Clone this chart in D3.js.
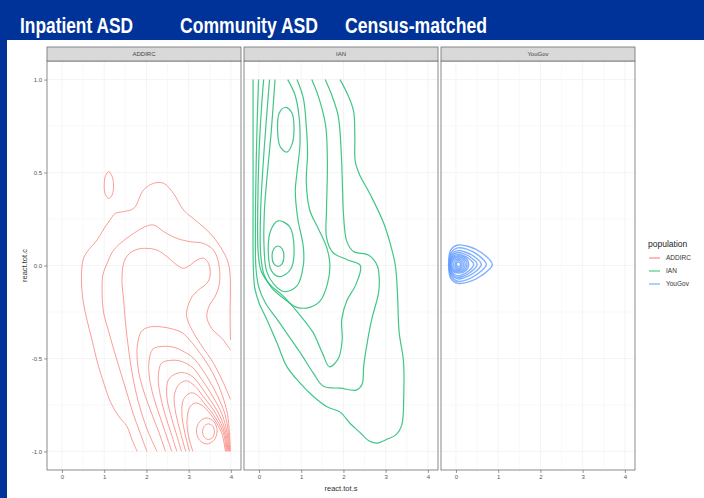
<!DOCTYPE html>
<html>
<head>
<meta charset="utf-8">
<script src="https://cdn.jsdelivr.net/npm/d3@7"></script>
<style>
  html, body { margin: 0; padding: 0; background: #003399; }
  svg { display: block; }
</style>
</head>
<body>
<svg id="chart" width="704" height="498"></svg>
<script>
// Facets, headings and legend
const facets = ["ADDIRC", "IAN", "YouGov"];
const headings = ["Inpatient ASD", "Community ASD", "Census-matched"];
const xTicks = [0, 1, 2, 3, 4];
const yTicks = [-1, -0.5, 0, 0.5, 1];
const xTitle = "react.tot.s";
const yTitle = "react.tot.c";
const legendTitle = "population";

// 2-D density contours, [react.tot.s, react.tot.c] per vertex
// ADDIRC: open contours (cut by the edges of the density grid)
const addircLines = [
  [[1.78,-1.0],[1.66,-0.938],[1.54,-0.866],[1.34,-0.81],[1.16,-0.74],[1.0,-0.64],[0.85,-0.53],[0.71,-0.40],[0.6,-0.3],[0.5,-0.19],[0.46,-0.07],[0.5,0.03],[0.6,0.075],[0.83,0.137],[1.0,0.2],[1.14,0.245],[1.26,0.28],[1.46,0.29],[1.7,0.307],[1.93,0.406],[2.17,0.442],[2.41,0.442],[2.64,0.388],[2.88,0.298],[3.2,0.236],[3.51,0.173],[3.75,0.101],[3.94,0.012],[3.99,-0.1],[3.98,-0.24],[3.99,-0.4]],
  [[2.01,-1.0],[1.85,-0.9],[1.69,-0.8],[1.57,-0.71],[1.45,-0.62],[1.33,-0.53],[1.21,-0.44],[1.1,-0.35],[0.99,-0.26],[0.95,-0.15],[0.97,-0.05],[1.07,0.012],[1.2,0.075],[1.38,0.119],[1.7,0.173],[1.97,0.209],[2.17,0.218],[2.41,0.182],[2.72,0.146],[3.04,0.128],[3.35,0.119],[3.59,0.083],[3.71,0.012],[3.73,-0.096],[3.62,-0.17],[3.5,-0.21],[3.43,-0.275],[3.55,-0.34],[3.8,-0.395],[3.99,-0.455]],
  [[2.25,-1.0],[2.05,-0.9],[1.88,-0.79],[1.74,-0.67],[1.64,-0.55],[1.56,-0.42],[1.5,-0.3],[1.46,-0.185],[1.42,-0.08],[1.47,0.02],[1.6,0.065],[1.8,0.088],[2.01,0.092],[2.25,0.083],[2.49,0.047],[2.72,0.003],[2.88,-0.015],[3.04,0.003],[3.2,0.03],[3.35,0.039],[3.47,0.012],[3.51,-0.051],[3.43,-0.096],[3.23,-0.132],[3.08,-0.168],[2.98,-0.22],[2.95,-0.27],[3.04,-0.329],[3.27,-0.419],[3.59,-0.526],[3.83,-0.634],[3.99,-0.72]],
  [[2.45,-1.0],[2.3,-0.9],[2.13,-0.8],[1.97,-0.7],[1.84,-0.6],[1.78,-0.5],[1.79,-0.42],[1.88,-0.355],[2.05,-0.332],[2.35,-0.33],[2.64,-0.343],[2.85,-0.362],[3.02,-0.4],[3.36,-0.5],[3.62,-0.6],[3.8,-0.7],[3.92,-0.8],[3.965,-0.9],[3.99,-1.0]],
  [[2.6,-1.0],[2.45,-0.9],[2.3,-0.8],[2.16,-0.7],[2.07,-0.6],[2.06,-0.52],[2.15,-0.45],[2.38,-0.435],[2.65,-0.44],[2.9,-0.465],[3.12,-0.5],[3.44,-0.6],[3.68,-0.7],[3.86,-0.8],[3.94,-0.9],[3.97,-1.0]],
  [[2.72,-1.0],[2.58,-0.9],[2.44,-0.8],[2.33,-0.7],[2.28,-0.6],[2.36,-0.525],[2.58,-0.51],[2.82,-0.515],[3.1,-0.55],[3.27,-0.6],[3.56,-0.7],[3.79,-0.8],[3.91,-0.9],[3.95,-1.0]],
  [[2.83,-1.0],[2.7,-0.9],[2.57,-0.8],[2.48,-0.7],[2.52,-0.615],[2.7,-0.582],[2.9,-0.577],[3.1,-0.6],[3.44,-0.7],[3.72,-0.8],[3.88,-0.9],[3.93,-1.0]],
  [[2.93,-1.0],[2.81,-0.9],[2.7,-0.8],[2.66,-0.7],[2.77,-0.64],[2.95,-0.62],[3.15,-0.65],[3.33,-0.7],[3.65,-0.8],[3.85,-0.9],[3.91,-1.0]],
  [[3.02,-1.0],[2.91,-0.9],[2.84,-0.8],[2.88,-0.72],[3.05,-0.685],[3.22,-0.7],[3.4,-0.75],[3.58,-0.8],[3.82,-0.9],[3.89,-1.0]],
  [[3.1,-1.0],[3.0,-0.92],[2.96,-0.84],[3.02,-0.765],[3.15,-0.74],[3.3,-0.75],[3.52,-0.8],[3.78,-0.9],[3.87,-1.0]]
];
// ADDIRC: closed contours
const addircRings = [
  [[1.11,0.505],[1.185,0.48],[1.22,0.433],[1.19,0.38],[1.11,0.361],[1.03,0.38],[1.0,0.433],[1.035,0.485]],
  [[3.43,-0.82],[3.6,-0.84],[3.675,-0.89],[3.6,-0.94],[3.43,-0.96],[3.26,-0.94],[3.185,-0.89],[3.26,-0.84]],
  [[3.47,-0.852],[3.57,-0.864],[3.61,-0.894],[3.57,-0.924],[3.47,-0.936],[3.37,-0.924],[3.33,-0.894],[3.37,-0.864]]
];

// IAN: open contours
const ianLines = [
  [[1.92,1.0],[2.1,0.92],[2.24,0.83],[2.27,0.7],[2.28,0.56],[2.38,0.49],[2.64,0.38],[2.95,0.23],[3.13,0.1],[3.23,0.0],[3.28,-0.15],[3.32,-0.36],[3.42,-0.51],[3.43,-0.69],[3.38,-0.86],[3.25,-0.91],[3.03,-0.935],[2.8,-0.955],[2.62,-0.945],[2.4,-0.9],[2.16,-0.85],[1.93,-0.79],[1.61,-0.76],[1.29,-0.705],[0.98,-0.634],[0.66,-0.544],[0.43,-0.418],[0.19,-0.293],[0.0,-0.2],[-0.1,-0.12],[-0.135,0.0],[-0.14,0.3],[-0.14,0.7],[-0.14,1.0]],
  [[1.57,1.0],[1.75,0.9],[1.88,0.8],[1.95,0.6],[1.98,0.4],[2.0,0.28],[2.08,0.13],[2.24,0.075],[2.6,0.055],[2.8,0.0],[2.85,-0.08],[2.83,-0.15],[2.67,-0.29],[2.56,-0.42],[2.48,-0.54],[2.44,-0.64],[2.3,-0.67],[1.93,-0.66],[1.53,-0.65],[1.29,-0.58],[0.98,-0.47],[0.66,-0.365],[0.43,-0.29],[0.15,-0.2],[0.0,-0.12],[-0.07,-0.02],[-0.085,0.2],[-0.07,0.5],[-0.04,0.8],[-0.01,1.0]],
  [[1.25,1.0],[1.42,0.9],[1.58,0.75],[1.62,0.55],[1.6,0.3],[1.6,0.15],[1.75,0.07],[2.1,0.03],[2.4,0.0],[2.3,-0.1],[2.08,-0.19],[1.96,-0.29],[1.97,-0.4],[1.88,-0.5],[1.67,-0.545],[1.5,-0.47],[1.28,-0.36],[0.98,-0.27],[0.6,-0.17],[0.25,-0.1],[0.05,-0.03],[-0.02,0.07],[-0.03,0.3],[0.0,0.6],[0.06,0.85],[0.11,1.0]],
  [[0.9,1.0],[1.05,0.9],[1.12,0.75],[1.15,0.6],[1.12,0.45],[1.2,0.3],[1.4,0.2],[1.6,0.1],[1.68,0.0],[1.62,-0.1],[1.45,-0.19],[1.2,-0.225],[0.9,-0.225],[0.6,-0.18],[0.3,-0.12],[0.12,-0.05],[0.04,0.06],[0.04,0.3],[0.1,0.55],[0.18,0.8],[0.25,1.0]],
  [[0.68,1.0],[0.85,0.92],[0.95,0.8],[0.97,0.65],[0.9,0.5],[0.86,0.4],[0.92,0.25],[1.05,0.1],[1.05,0.0],[0.9,-0.11],[0.6,-0.14],[0.35,-0.1],[0.18,-0.03],[0.12,0.1],[0.13,0.3],[0.2,0.5],[0.29,0.72],[0.38,1.0]]
];
// IAN: closed contours
const ianRings = [
  [[0.62,0.85],[0.78,0.82],[0.83,0.74],[0.78,0.65],[0.66,0.61],[0.5,0.64],[0.44,0.73],[0.48,0.82]],
  [[0.45,0.24],[0.72,0.21],[0.83,0.1],[0.75,-0.02],[0.5,-0.06],[0.3,-0.03],[0.22,0.07],[0.28,0.19]],
  [[0.45,0.105],[0.55,0.09],[0.59,0.05],[0.55,0.01],[0.45,-0.005],[0.35,0.01],[0.31,0.05],[0.35,0.09]]
];

// YouGov: closed contours
const yougovRings = [
  [[0.86,0.005],[0.6,0.07],[0.3,0.102],[0.05,0.11],[-0.12,0.085],[-0.175,0.01],[-0.12,-0.07],[0.05,-0.096],[0.3,-0.088],[0.6,-0.055]],
  [[0.72,0.005],[0.5,0.06],[0.25,0.088],[0.04,0.095],[-0.11,0.072],[-0.165,0.008],[-0.11,-0.06],[0.04,-0.085],[0.25,-0.077],[0.5,-0.047]],
  [[0.6,0.006],[0.42,0.05],[0.2,0.074],[0.04,0.08],[-0.1,0.062],[-0.155,0.007],[-0.1,-0.052],[0.04,-0.072],[0.2,-0.065],[0.42,-0.04]],
  [[0.5,0.006],[0.35,0.044],[0.18,0.064],[0.04,0.07],[-0.09,0.055],[-0.148,0.007],[-0.09,-0.045],[0.04,-0.064],[0.18,-0.057],[0.35,-0.035]],
  [[0.42,0.006],[0.3,0.038],[0.15,0.055],[0.04,0.06],[-0.08,0.048],[-0.14,0.007],[-0.08,-0.04],[0.04,-0.056],[0.15,-0.05],[0.3,-0.03]],
  [[0.3,0.006],[0.23,0.04],[0.06,0.053],[-0.09,0.04],[-0.138,0.006],[-0.09,-0.028],[0.06,-0.041],[0.23,-0.028]],
  [[0.26,0.006],[0.2,0.036],[0.06,0.047],[-0.07,0.036],[-0.12,0.006],[-0.07,-0.024],[0.06,-0.035],[0.2,-0.024]],
  [[0.22,0.006],[0.17,0.032],[0.06,0.041],[-0.05,0.032],[-0.1,0.006],[-0.05,-0.02],[0.06,-0.029],[0.17,-0.02]],
  [[0.18,0.006],[0.14,0.027],[0.06,0.035],[-0.02,0.027],[-0.06,0.006],[-0.02,-0.015],[0.06,-0.023],[0.14,-0.015]],
  [[0.14,0.006],[0.115,0.021],[0.06,0.028],[0.005,0.021],[-0.02,0.006],[0.005,-0.009],[0.06,-0.016],[0.115,-0.009]],
  [[0.11,0.006],[0.095,0.015],[0.06,0.019],[0.025,0.015],[0.01,0.006],[0.025,-0.003],[0.06,-0.007],[0.095,-0.003]]
];

const panelData = [
  { lines: addircLines, rings: addircRings, width: 0.9, opacity: 0.8 },
  { lines: ianLines, rings: ianRings, width: 1.2, opacity: 0.9 },
  { lines: [], rings: yougovRings, width: 1.4, opacity: 0.8 }
];

// ---- layout ----
const svg = d3.select("#chart");
const colour = d3.scaleOrdinal().domain(facets).range(["#F8766D", "#2cc07a", "#619CFF"]);

svg.append("rect").attr("x", 0).attr("y", 0).attr("width", 704).attr("height", 498).attr("fill", "#003399");
svg.append("rect").attr("x", 7).attr("y", 40).attr("width", 697).attr("height", 458).attr("fill", "#ffffff");

// headings above the plot
const headingX = [20, 180, 345];
const headingW = [113, 138, 142];
headings.forEach((h, i) => {
  svg.append("text")
    .attr("x", headingX[i]).attr("y", 33)
    .attr("font-family", "Liberation Sans, Arial, sans-serif")
    .attr("font-weight", "bold").attr("font-size", 22.5)
    .attr("fill", "#ffffff")
    .attr("textLength", headingW[i]).attr("lengthAdjust", "spacingAndGlyphs")
    .text(h);
});

const panelLeft = [47, 244, 441];
const panelW = 194;
const panelTop = 61, panelBottom = 470;
const stripTop = 47;

const y = d3.scaleLinear().domain([-1.1, 1.1]).range([panelBottom, panelTop]);

const font = "Liberation Sans, Arial, sans-serif";

facets.forEach((f, i) => {
  const x = d3.scaleLinear().domain([-0.355, 4.24]).range([panelLeft[i], panelLeft[i] + panelW]);
  const g = svg.append("g");

  // panel background grid
  const xMinor = [0.5, 1.5, 2.5, 3.5];
  const yMinor = [-0.75, -0.25, 0.25, 0.75];
  g.selectAll(".gx").data(xTicks.concat(xMinor)).join("line")
    .attr("x1", d => x(d)).attr("x2", d => x(d))
    .attr("y1", panelTop).attr("y2", panelBottom)
    .attr("stroke", "#f3f3f3").attr("stroke-width", d => Number.isInteger(d) ? 0.9 : 0.5);
  g.selectAll(".gy").data(yTicks.concat(yMinor)).join("line")
    .attr("x1", panelLeft[i]).attr("x2", panelLeft[i] + panelW)
    .attr("y1", d => y(d)).attr("y2", d => y(d))
    .attr("stroke", "#f3f3f3").attr("stroke-width", d => yTicks.includes(d) ? 0.9 : 0.5);

  // contours
  const openLine = d3.line().x(d => x(d[0])).y(d => y(d[1])).curve(d3.curveCatmullRom.alpha(0.5));
  const ringLine = d3.line().x(d => x(d[0])).y(d => y(d[1])).curve(d3.curveCatmullRomClosed.alpha(0.5));
  const col = colour(f);
  const pd = panelData[i];
  g.selectAll(".open").data(pd.lines).join("path")
    .attr("d", openLine).attr("fill", "none")
    .attr("stroke", col).attr("stroke-width", pd.width).attr("stroke-opacity", pd.opacity);
  g.selectAll(".ring").data(pd.rings).join("path")
    .attr("d", ringLine).attr("fill", "none")
    .attr("stroke", col).attr("stroke-width", pd.width).attr("stroke-opacity", pd.opacity);

  // panel border
  g.append("rect")
    .attr("x", panelLeft[i]).attr("y", panelTop)
    .attr("width", panelW).attr("height", panelBottom - panelTop)
    .attr("fill", "none").attr("stroke", "#6e6e6e").attr("stroke-width", 0.8);

  // facet strip
  g.append("rect")
    .attr("x", panelLeft[i]).attr("y", stripTop)
    .attr("width", panelW).attr("height", panelTop - stripTop)
    .attr("fill", "#d9d9d9").attr("stroke", "#6e6e6e").attr("stroke-width", 0.8);
  g.append("text")
    .attr("x", panelLeft[i] + panelW / 2).attr("y", (stripTop + panelTop) / 2 + 2)
    .attr("text-anchor", "middle")
    .attr("font-family", font).attr("font-size", 6)
    .attr("fill", "#444").text(f);

  // x axis
  const xa = svg.append("g").attr("transform", `translate(0,${panelBottom})`)
    .call(d3.axisBottom(x).tickValues(xTicks).tickFormat(d3.format("d")).tickSize(3).tickPadding(2));
  xa.select(".domain").remove();
  xa.selectAll("line").attr("stroke", "#555").attr("stroke-width", 0.6);
  xa.selectAll("text").attr("font-family", font).attr("font-size", 6).attr("fill", "#555");
});

// y axis (first panel only)
const ya = svg.append("g").attr("transform", `translate(${panelLeft[0]},0)`)
  .call(d3.axisLeft(y).tickValues(yTicks).tickFormat(d => d.toFixed(1)).tickSize(3).tickPadding(2));
ya.select(".domain").remove();
ya.selectAll("line").attr("stroke", "#555").attr("stroke-width", 0.6);
ya.selectAll("text").attr("font-family", font).attr("font-size", 6).attr("fill", "#555");

// axis titles
svg.append("text")
  .attr("x", panelLeft[1] + panelW / 2).attr("y", 491)
  .attr("text-anchor", "middle").attr("font-family", font).attr("font-size", 7.5)
  .attr("fill", "#333").text(xTitle);
svg.append("text")
  .attr("transform", `translate(27,${y(0)}) rotate(-90)`)
  .attr("text-anchor", "middle").attr("font-family", font).attr("font-size", 7.5)
  .attr("fill", "#333").text(yTitle);

// legend
const lg = svg.append("g");
lg.append("text").attr("x", 648).attr("y", 247)
  .attr("font-family", font).attr("font-size", 8.5).attr("fill", "#222").text(legendTitle);
facets.forEach((f, i) => {
  const ly = 258 + i * 13;
  lg.append("line").attr("x1", 649).attr("x2", 660).attr("y1", ly).attr("y2", ly)
    .attr("stroke", colour(f)).attr("stroke-width", 1);
  lg.append("text").attr("x", 666).attr("y", ly + 2.3)
    .attr("font-family", font).attr("font-size", 6.5).attr("fill", "#333").text(f);
});
</script>
</body>
</html>
